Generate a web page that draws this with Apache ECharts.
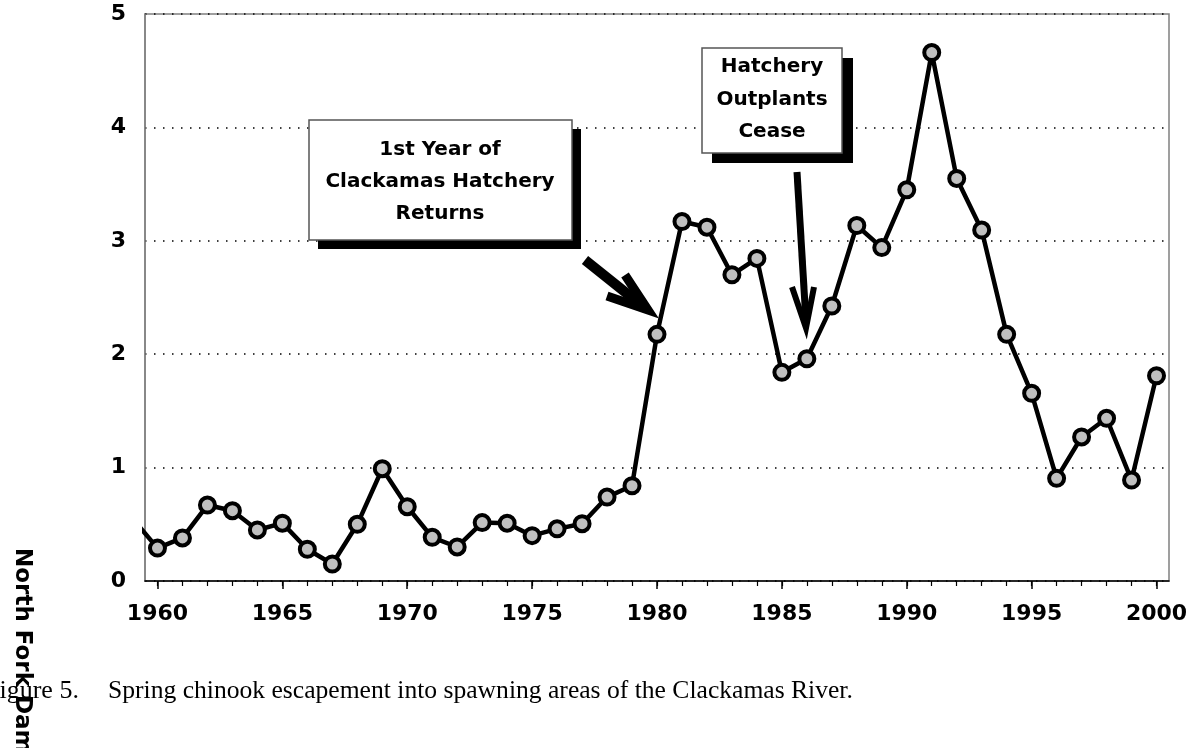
<!DOCTYPE html>
<html>
<head>
<meta charset="utf-8">
<script src="https://cdn.jsdelivr.net/npm/echarts@6/dist/echarts.min.js"></script>
<style>
  html, body { margin: 0; padding: 0; background: #fff; }
  #chart { width: 1196px; height: 748px; }
</style>
</head>
<body>
<div id="chart"></div>
<script>
// ---- data ----
const years = [1959, 1960, 1961, 1962, 1963, 1964, 1965, 1966, 1967, 1968, 1969,
               1970, 1971, 1972, 1973, 1974, 1975, 1976, 1977, 1978, 1979,
               1980, 1981, 1982, 1983, 1984, 1985, 1986, 1987, 1988, 1989,
               1990, 1991, 1992, 1993, 1994, 1995, 1996, 1997, 1998, 1999, 2000];
const escapement = [0.55, 0.29, 0.38, 0.67, 0.62, 0.45, 0.51, 0.28, 0.15, 0.50, 0.99,
                    0.655, 0.385, 0.30, 0.515, 0.51, 0.40, 0.46, 0.505, 0.74, 0.84,
                    2.175, 3.17, 3.12, 2.70, 2.845, 1.84, 1.96, 2.425, 3.135, 2.94,
                    3.45, 4.66, 3.55, 3.095, 2.175, 1.655, 0.905, 1.27, 1.435, 0.89, 1.81];
const xTickYears = [1960, 1961, 1962, 1963, 1964, 1965, 1966, 1967, 1968, 1969,
                    1970, 1971, 1972, 1973, 1974, 1975, 1976, 1977, 1978, 1979,
                    1980, 1981, 1982, 1983, 1984, 1985, 1986, 1987, 1988, 1989,
                    1990, 1991, 1992, 1993, 1994, 1995, 1996, 1997, 1998, 1999, 2000];
const xLabelYears = [1960, 1965, 1970, 1975, 1980, 1985, 1990, 1995, 2000];
const yTicks = [0, 1, 2, 3, 4, 5];
const note1 = ['1st Year of', 'Clackamas Hatchery', 'Returns'];
const note2 = ['Hatchery', 'Outplants', 'Cease'];
const sideText = 'North Fork Dam';
const captionLead = 'Figure 5.';
const captionText = 'Spring chinook escapement into spawning areas of the Clackamas River.';

// ---- chart ----
const chart = echarts.init(document.getElementById('chart'), null, { renderer: 'canvas' });
const labelFont = { fontFamily: 'DejaVu Sans', fontWeight: 'bold', fontSize: 22, color: '#000' };
const noteFont = 'bold 20px "DejaVu Sans"';

function noteLines(lines, cx, y0, step) {
  return lines.map((t, i) => ({
    type: 'text', x: cx, y: y0 + i * step, z: 12,
    style: { text: t, font: noteFont, fill: '#000', align: 'center', verticalAlign: 'middle',
             textAlign: 'center', textVerticalAlign: 'middle' }
  }));
}

const option = {
  animation: false,
  backgroundColor: '#fff',
  grid: { left: 145, right: 27, top: 14, bottom: 167, show: true,
          borderColor: '#808080', borderWidth: 1.5, backgroundColor: 'transparent' },
  xAxis: [
    { type: 'value', min: 1959.5, max: 2000.5, position: 'bottom',
      axisLine: { show: true, lineStyle: { color: '#000', width: 1.5 } },
      axisTick: { show: true, length: 5, customValues: xTickYears, lineStyle: { color: '#000', width: 1.2 } },
      axisLabel: { show: false },
      splitLine: { show: false } },
    { type: 'value', min: 1959.5, max: 2000.5, position: 'bottom',
      axisLine: { show: false },
      axisTick: { show: true, length: 8, customValues: xLabelYears, lineStyle: { color: '#000', width: 1.5 } },
      axisLabel: Object.assign({ show: true, margin: 22, customValues: xLabelYears,
                                 formatter: v => String(v) }, labelFont),
      splitLine: { show: false } }
  ],
  yAxis: {
    type: 'value', min: 0, max: 5, interval: 1,
    axisLine: { show: true, lineStyle: { color: '#808080', width: 1.5 } },
    axisTick: { show: false },
    axisLabel: Object.assign({ margin: 19, formatter: v => yTicks.includes(v) ? String(v) : '' }, labelFont),
    splitLine: { show: true, lineStyle: { color: '#000', width: 1.5, type: [1.5, 7.5] } }
  },
  series: [{
    type: 'line',
    xAxisIndex: 0,
    data: years.map((y, i) => [y, escapement[i]]),
    clip: true,
    symbol: 'circle',
    symbolSize: 15,
    showAllSymbol: true,
    lineStyle: { color: '#000', width: 4.5 },
    itemStyle: { color: '#c0c0c0', borderColor: '#000', borderWidth: 4 },
    emphasis: { disabled: true },
    z: 5
  }],
  graphic: [
    // box 1
    { type: 'rect', z: 10, shape: { x: 318, y: 129, width: 263, height: 120 }, style: { fill: '#000' } },
    { type: 'rect', z: 11, shape: { x: 309, y: 120, width: 263, height: 120 },
      style: { fill: '#fff', stroke: '#555', lineWidth: 1.5 } },
    ...noteLines(note1, 440, 150, 32),
    // box 2
    { type: 'rect', z: 10, shape: { x: 712, y: 58, width: 141, height: 105 }, style: { fill: '#000' } },
    { type: 'rect', z: 11, shape: { x: 702, y: 48, width: 140, height: 105 },
      style: { fill: '#fff', stroke: '#555', lineWidth: 1.5 } },
    ...noteLines(note2, 772, 67, 32.5),
    // arrow 1
    { type: 'line', z: 12, shape: { x1: 585, y1: 260, x2: 640, y2: 304 },
      style: { stroke: '#000', lineWidth: 10, lineCap: 'butt' } },
    { type: 'polyline', z: 12, shape: { points: [[607, 296], [648, 310], [625, 275]] },
      style: { stroke: '#000', lineWidth: 9, lineJoin: 'miter', miterLimit: 10, fill: null } },
    // arrow 2
    { type: 'line', z: 12, shape: { x1: 797, y1: 172, x2: 806, y2: 322 },
      style: { stroke: '#000', lineWidth: 7, lineCap: 'butt' } },
    { type: 'polyline', z: 12, shape: { points: [[792, 287], [806, 328], [814, 287]] },
      style: { stroke: '#000', lineWidth: 6, lineJoin: 'miter', miterLimit: 10, fill: null } },
    // rotated side text
    { type: 'text', z: 13, x: 22, y: 548, rotation: -Math.PI / 2,
      style: { text: sideText, font: 'bold 23px "DejaVu Sans"', fill: '#000',
               align: 'left', verticalAlign: 'middle', textAlign: 'left', textVerticalAlign: 'middle' } },
    // caption
    { type: 'text', z: 12, x: -15, y: 691,
      style: { text: captionLead, font: '26px "Liberation Serif"', fill: '#000',
               align: 'left', verticalAlign: 'middle', textAlign: 'left', textVerticalAlign: 'middle' } },
    { type: 'text', z: 12, x: 108, y: 691,
      style: { text: captionText, font: '25.6px "Liberation Serif"', fill: '#000',
               align: 'left', verticalAlign: 'middle', textAlign: 'left', textVerticalAlign: 'middle' } }
  ]
};
chart.setOption(option);
</script>
</body>
</html>
